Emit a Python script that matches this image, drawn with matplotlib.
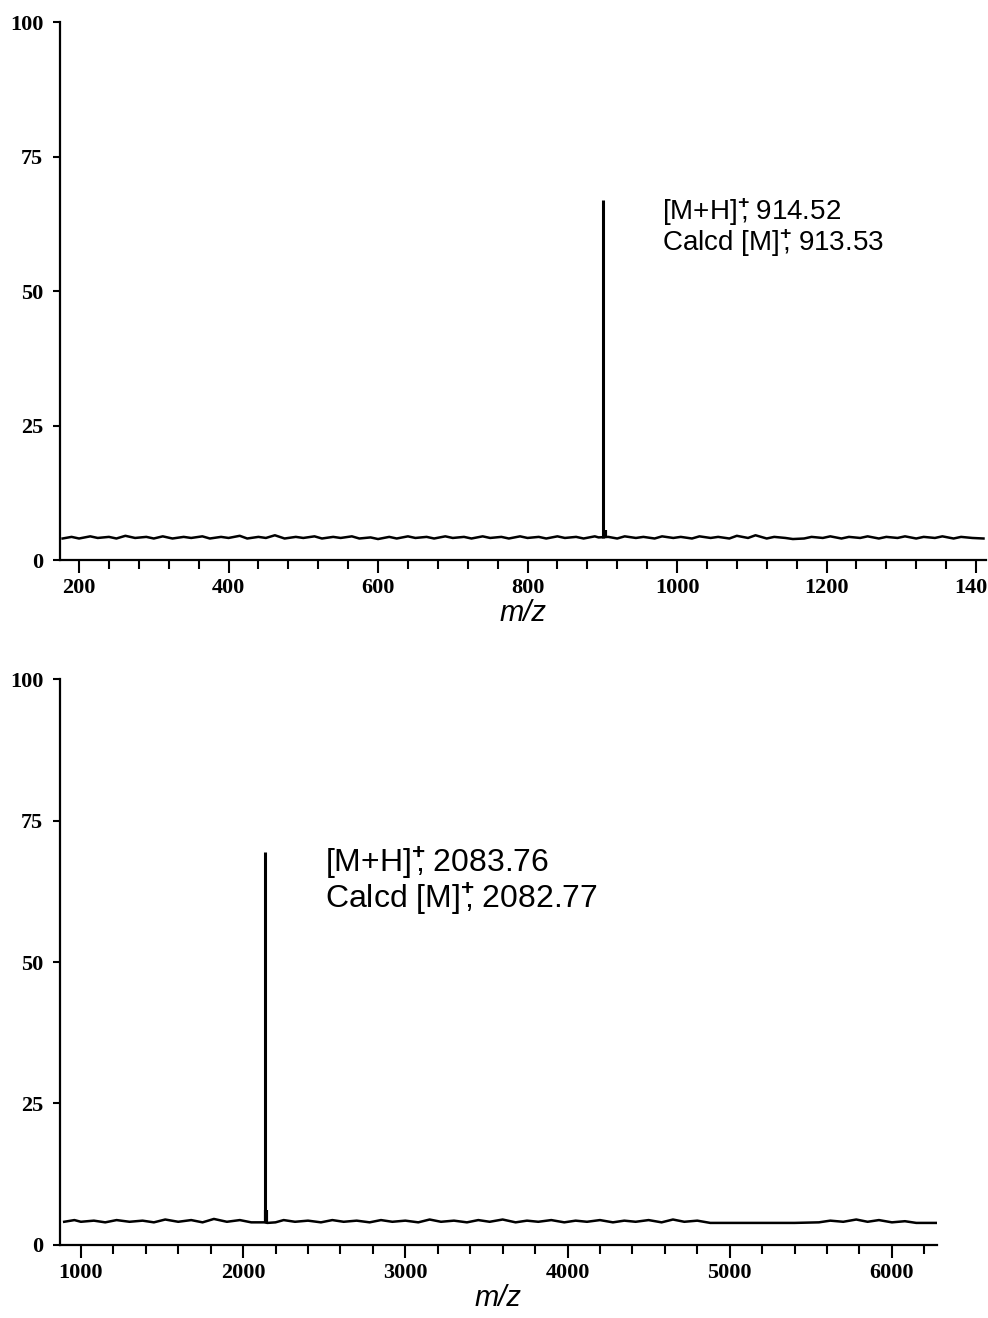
import numpy as np
import matplotlib.pyplot as plt
from matplotlib.ticker import MultipleLocator

plt.rcParams['mathtext.fontset'] = 'custom'
plt.rcParams['mathtext.rm'] = 'Liberation Sans'
plt.rcParams['mathtext.bf'] = 'Liberation Sans:bold'

# top spectrum (m/z 175-1410)
top_noise_mz = [178, 190, 200, 215, 225, 240, 250, 262, 275, 290, 300, 312, 325, 340,
                350, 365, 375, 390, 400, 415, 425, 440, 450, 462, 475, 490, 500, 515,
                525, 540, 550, 565, 575, 590, 600, 615, 625, 640, 650, 665, 675, 690,
                700, 715, 725, 740, 750, 765, 775, 790, 800, 815, 825, 840, 850, 865,
                875, 890, 895, 908, 920, 930, 945, 955, 970, 980, 995, 1005, 1020,
                1030, 1045, 1055, 1070, 1080, 1095, 1105, 1120, 1130, 1145, 1155,
                1170, 1180, 1195, 1205, 1220, 1230, 1245, 1255, 1270, 1280, 1295,
                1305, 1320, 1330, 1345, 1355, 1370, 1380, 1395, 1410]
top_noise_int = [4.0, 4.3, 4.0, 4.4, 4.1, 4.3, 4.0, 4.5, 4.1, 4.3, 4.0, 4.4, 4.0, 4.3,
                 4.1, 4.4, 4.0, 4.3, 4.1, 4.5, 4.0, 4.3, 4.1, 4.6, 4.0, 4.3, 4.1, 4.4,
                 4.0, 4.3, 4.1, 4.4, 4.0, 4.2, 3.9, 4.3, 4.0, 4.4, 4.1, 4.3, 4.0, 4.4,
                 4.1, 4.3, 4.0, 4.4, 4.1, 4.3, 4.0, 4.4, 4.1, 4.3, 4.0, 4.4, 4.1, 4.3,
                 4.0, 4.4, 4.2, 4.3, 4.0, 4.4, 4.1, 4.3, 4.0, 4.4, 4.1, 4.3, 4.0,
                 4.4, 4.1, 4.3, 4.0, 4.5, 4.1, 4.6, 4.0, 4.3, 4.1, 3.9,
                 4.0, 4.3, 4.1, 4.4, 4.0, 4.3, 4.1, 4.4, 4.0, 4.3, 4.1,
                 4.4, 4.0, 4.3, 4.1, 4.4, 4.0, 4.3, 4.1, 4.0]
top_peak_mz = [901]
top_peak_int = [67]
top_shoulder_mz = [903]
top_shoulder_int = [5.5]
top_label = [r'[M+H]$^{\mathbf{+}}\!\!$, 914.52', r'Calcd [M]$^{\mathbf{+}}\!\!$, 913.53']

# bottom spectrum (m/z 870-6280)
bot_noise_mz = [897, 960, 1000, 1080, 1150, 1220, 1300, 1380, 1450, 1520, 1600, 1680,
                1750, 1820, 1900, 1980, 2050, 2130, 2150, 2200, 2250, 2320, 2400, 2480,
                2550, 2620, 2700, 2780, 2850, 2920, 3000, 3080, 3150, 3220, 3300, 3380,
                3450, 3520, 3600, 3680, 3750, 3820, 3900, 3980, 4050, 4120, 4200, 4280,
                4350, 4420, 4500, 4580, 4650, 4720, 4800, 4880, 4950, 5100, 5250, 5400,
                5550, 5620, 5700, 5780, 5850, 5920, 6000, 6080, 6150, 6278]
bot_noise_int = [4.1, 4.4, 4.1, 4.3, 4.0, 4.4, 4.1, 4.3, 4.0, 4.5, 4.1, 4.4,
                 4.0, 4.6, 4.1, 4.4, 4.0, 4.0, 3.9, 4.0, 4.4, 4.1, 4.3, 4.0,
                 4.4, 4.1, 4.3, 4.0, 4.4, 4.1, 4.3, 4.0, 4.5, 4.1, 4.3, 4.0,
                 4.4, 4.1, 4.5, 4.0, 4.3, 4.1, 4.4, 4.0, 4.3, 4.1, 4.4, 4.0,
                 4.3, 4.1, 4.4, 4.0, 4.5, 4.1, 4.3, 3.9, 3.9, 3.9, 3.9, 3.9,
                 4.0, 4.3, 4.1, 4.5, 4.1, 4.4, 4.0, 4.2, 3.9, 3.9]
bot_peak_mz = [2138]
bot_peak_int = [69.5]
bot_shoulder_mz = [2141]
bot_shoulder_int = [6.2]
bot_label = [r'[M+H]$^{\mathbf{+}}\!\!$, 2083.76', r'Calcd [M]$^{\mathbf{+}}\!\!$, 2082.77']

fig = plt.figure(figsize=(9.88, 13.18), dpi=100)
ax1 = fig.add_axes([0.0607, 0.5751, 0.937, 0.4082])
ax2 = fig.add_axes([0.0607, 0.0554, 0.8877, 0.4294])

panels = [
    (ax1, top_noise_mz, top_noise_int, top_peak_mz, top_peak_int, top_shoulder_mz,
     top_shoulder_int, top_label, (174.5, 1413), 200, 40, (980, 64.7, 58.9), 20),
    (ax2, bot_noise_mz, bot_noise_int, bot_peak_mz, bot_peak_int, bot_shoulder_mz,
     bot_shoulder_int, bot_label, (871, 6278), 1000, 200, (2502, 67.5, 61.3), 23),
]

for ax, nmz, nint, pmz, pint, smz, sint, lab, xl, major, minor, tpos, fs in panels:
    ax.plot(nmz, nint, color='black', lw=1.8)
    ax.vlines(pmz, 4, pint, color='black', lw=2.2)
    ax.vlines(smz, 4, sint, color='black', lw=3)
    ax.text(tpos[0], tpos[1], lab[0], fontsize=fs, family='Liberation Sans', va='center')
    ax.text(tpos[0], tpos[2], lab[1], fontsize=fs, family='Liberation Sans', va='center')

    ax.set_xlim(*xl)
    ax.set_ylim(0, 100)
    ax.xaxis.set_major_locator(MultipleLocator(major))
    ax.xaxis.set_minor_locator(MultipleLocator(minor))
    ax.set_yticks([0, 25, 50, 75, 100])
    for s in ['top', 'right']:
        ax.spines[s].set_visible(False)
    for s in ['left', 'bottom']:
        ax.spines[s].set_linewidth(1.6)
    ax.tick_params(axis='x', which='major', length=9, width=1.5, pad=4)
    ax.tick_params(axis='x', which='minor', length=6.5, width=1.5)
    ax.tick_params(axis='y', which='major', length=5, width=1.5, pad=7)
    for t in ax.get_xticklabels() + ax.get_yticklabels():
        t.set_fontfamily('Liberation Serif')
        t.set_fontweight('bold')
        t.set_fontsize(16)
    ax.set_xlabel('m/z', fontsize=21, style='italic', family='Liberation Sans', labelpad=1)

fig.savefig('out.png', dpi=100)
